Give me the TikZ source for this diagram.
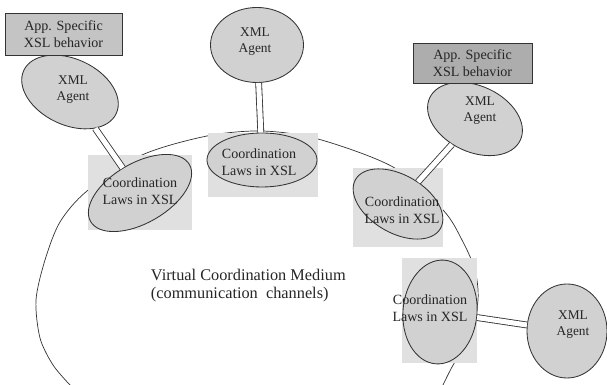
\documentclass[tikz,border=0pt]{standalone}
\usepackage{fontspec}
\setmainfont{Liberation Serif}
\usetikzlibrary{shapes.geometric}

\begin{document}
\begin{tikzpicture}[x=.025cm,y=-.025cm,font=\fontsize{10}{12}\selectfont,
ink/.style={draw=black!80,line width=.6pt},
backdrop/.style={fill=black!12},
blob/.style={ellipse,ink,fill=black!18,inner sep=0pt},
appbox/.style={rectangle,ink,inner sep=0pt,align=center,text=black!85},
label/.style={align=center,text=black!85},
link/.style={ink,double=white,double distance=3.6pt}]
\useasboundingbox (0,0) rectangle (607,385);
\draw[ink,line width=.5pt] plot[smooth] coordinates {(70,385) (53,365) (40,338) (36,300) (45,260) (60,222) (87,191) (142,155) (207,136) (262,131) (318,139) (393,167) (443,210) (462,240) (475,270) (478,300) (470,335) (452,367) (443,385)};
\foreach \n/\xa/\ya/\xb/\yb in {A/88/155/192/230,B/208/133/318/197,C/353/168/443/247,D/402/258/477/363}
\fill[backdrop] (\xa,\ya) rectangle (\xb,\yb);
\foreach \n/\x/\y/\w/\h/\r in {A/140/193/2.85/1.5/30,B/262/160/2.75/1.35/0,C/398/204/2.45/1.45/-30,D/440/312/1.85/2.6/-5}
\node[blob,minimum width=\w cm,minimum height=\h cm,rotate=\r] (laws\n) at (\x,\y) {};
\foreach \n/\x/\y/\w/\h/\r in {A/70/92/2.55/1.65/-25,B/257/45/2.325/1.875/0,C/475/119/2.5/1.65/-25,D/567/331/2.0/2.35/0}
\node[blob,minimum width=\w cm,minimum height=\h cm,rotate=\r] (agent\n) at (\x,\y) {};
\node[appbox,fill=black!23,minimum width=2.925cm,minimum height=1.05cm] (appA) at (63.5,34) {App. Specific\\XSL behavior};
\node[appbox,fill=black!32,minimum width=2.975cm,minimum height=1cm] (appC) at (472.5,63) {App. Specific\\XSL behavior};
\draw[link] (agentA) -- (lawsA);
\draw[link] (agentB) -- (lawsB);
\draw[link] (agentC) -- (lawsC);
\draw[link] (lawsD) -- (agentD);
\foreach \n/\x/\y in {A/140/191,B/259/162,C/402/210,D/430/308}
\node[label] (lawsText\n) at (\x,\y) {Coordination\\Laws in XSL};
\foreach \n/\x/\y in {A/73/90,B/255/42,C/480/111,D/573/325}
\node[label,font=\fontsize{9.5}{11.3}\selectfont] (agentText\n) at (\x,\y) {XML\\Agent};
\node[label,align=left,anchor=west,font=\fontsize{11.6}{12.8}\selectfont] (medium) at (146,286) {Virtual Coordination Medium\\(communication\ \ channels)};
\end{tikzpicture}
\end{document}
